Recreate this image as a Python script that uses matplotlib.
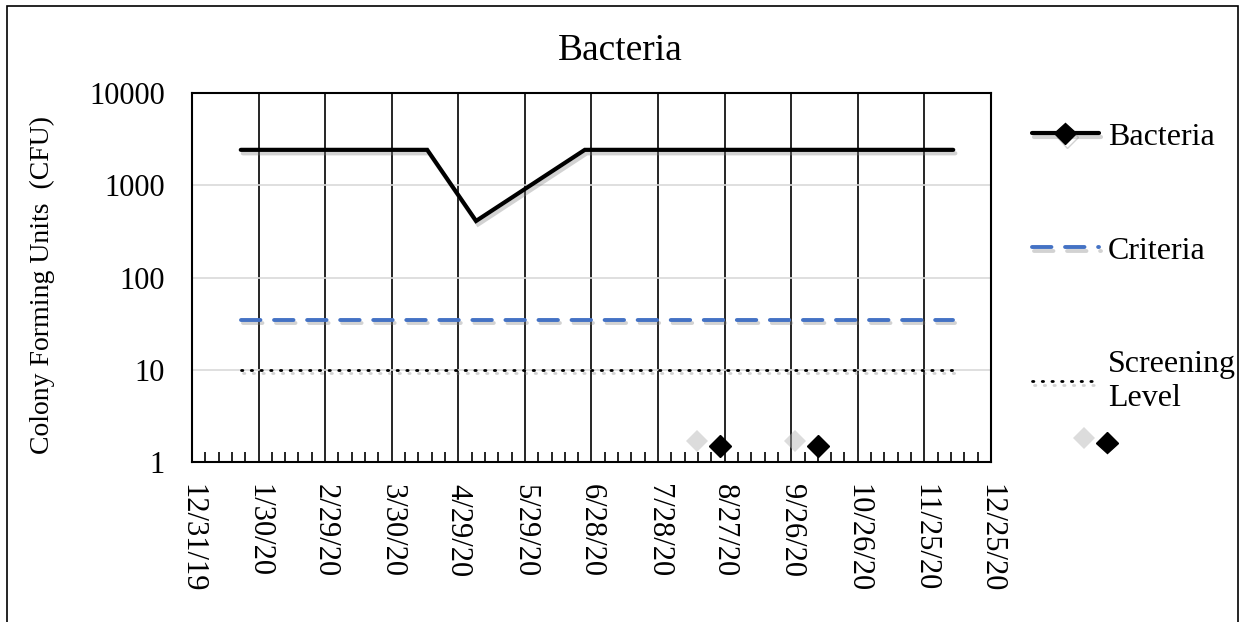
import pandas as pd
import numpy as np
import matplotlib
matplotlib.use('Agg')
import matplotlib.pyplot as plt
import matplotlib.dates as mdates
import matplotlib.patheffects as pe
from matplotlib.patches import Rectangle
from matplotlib.ticker import FixedLocator, FuncFormatter, NullFormatter

plt.rcParams['font.family'] = ['Liberation Serif', 'DejaVu Serif']

# data
bact_dates = pd.to_datetime(['2020-01-22', '2020-04-15', '2020-05-07', '2020-06-25', '2020-12-08'])
bact_vals = [2420, 2420, 410, 2420, 2420]
criteria_dates = pd.to_datetime(['2020-01-22', '2020-12-08'])
criteria_vals = [35, 35]
screen_dates = pd.to_datetime(['2020-01-22', '2020-12-08'])
screen_vals = [10, 10]
extra_dates = pd.to_datetime(['2020-08-25', '2020-10-08'])
extra_vals = [1.5, 1.5]

x_start = pd.Timestamp('2019-12-31')
x_end = pd.Timestamp('2020-12-25')
y_ticks = [1, 10, 100, 1000, 10000]

fig = plt.figure(figsize=(12.44, 6.22), dpi=100)
ax = fig.add_axes([0.1543, 0.2572, 0.6423, 0.5933])

shadow = [pe.SimpleLineShadow(offset=(1.5, -2.5), shadow_color='0.5', alpha=0.35), pe.Normal()]
# soft grey shadow offset up-left of the diamonds
mk_shadow = [pe.SimplePatchShadow(offset=(-16.5, 3.5), shadow_rgbFace='0.7', alpha=0.45), pe.Normal()]

l1, = ax.plot(bact_dates, bact_vals, color='black', lw=3, solid_capstyle='round',
              solid_joinstyle='miter', label='Bacteria', marker='D', markevery=[],
              markersize=11, path_effects=shadow, zorder=5)
l2, = ax.plot(criteria_dates, criteria_vals, color='#4472C4', lw=2.8,
              linestyle=(0, (5, 3.5)), dash_capstyle='round', label='Criteria',
              path_effects=shadow, zorder=4)
l3, = ax.plot(screen_dates, screen_vals, color='black', lw=2,
              linestyle=(0, (0.5, 3)), dash_capstyle='round', label='Screening\nLevel',
              path_effects=shadow, zorder=4)
l4, = ax.plot(extra_dates, extra_vals, linestyle='none', marker='D', color='black',
              markersize=11, label=' ', path_effects=mk_shadow, zorder=6)

ax.set_yscale('log')
ax.set_ylim(1, 10000)
ax.set_xlim(mdates.date2num(x_start), mdates.date2num(x_end))

major = pd.date_range(x_start, x_end, freq='30D')
minor = pd.date_range(x_start, x_end, freq='6D')
ax.xaxis.set_major_locator(FixedLocator(mdates.date2num(major)))
ax.xaxis.set_minor_locator(FixedLocator(mdates.date2num(minor)))

def fmt_date(v, pos=None):
    d = mdates.num2date(v)
    return f"{d.month}/{d.day}/{d.strftime('%y')}"

ax.xaxis.set_major_formatter(FuncFormatter(fmt_date))
ax.yaxis.set_major_locator(FixedLocator(y_ticks))
ax.yaxis.set_major_formatter(FuncFormatter(lambda v, p: f"{int(v)}"))
ax.yaxis.set_minor_formatter(NullFormatter())

ax.tick_params(axis='x', which='major', direction='in', length=0, pad=16,
               labelsize=22, labelrotation=-90)
ax.tick_params(axis='x', which='minor', direction='in', length=7, width=1.2, color='black')
ax.tick_params(axis='y', which='both', length=0, pad=19.5, labelsize=22)
for lbl in ax.get_xticklabels():
    lbl.set_verticalalignment('top')
    lbl.set_horizontalalignment('center')

ax.grid(axis='x', which='major', color='black', lw=1.2)
ax.grid(axis='y', which='major', color='#d9d9d9', lw=1.2)
ax.grid(axis='y', which='minor', visible=False)
for sp in ax.spines.values():
    sp.set_linewidth(1.5)
    sp.set_color('black')
ax.set_axisbelow(True)

ax.set_title('Bacteria', fontsize=27, pad=24, x=0.536)
ax.set_ylabel('Colony Forming Units  (CFU)', fontsize=20)
ax.yaxis.set_label_coords(-0.172, 0.48)

leg = ax.legend(handles=[l1, l2, l3], loc='upper left', bbox_to_anchor=(1.051, 0.921),
                frameon=False, fontsize=23, handlelength=2.1, handletextpad=0.28,
                labelspacing=2.65, borderaxespad=0, borderpad=0)
ax.add_artist(leg)
ax.legend(handles=[l4], loc='center left', bbox_to_anchor=(1.103, 0.043),
          frameon=False, fontsize=23, handlelength=2.1, handletextpad=0.28,
          borderaxespad=0, borderpad=0)

fig.patches.append(Rectangle((7 / 1244, -0.05), 1231 / 1244, 1.05 - 6 / 622,
                             transform=fig.transFigure, fill=False,
                             edgecolor='black', lw=1.2))

fig.savefig('out.png', dpi=100)
